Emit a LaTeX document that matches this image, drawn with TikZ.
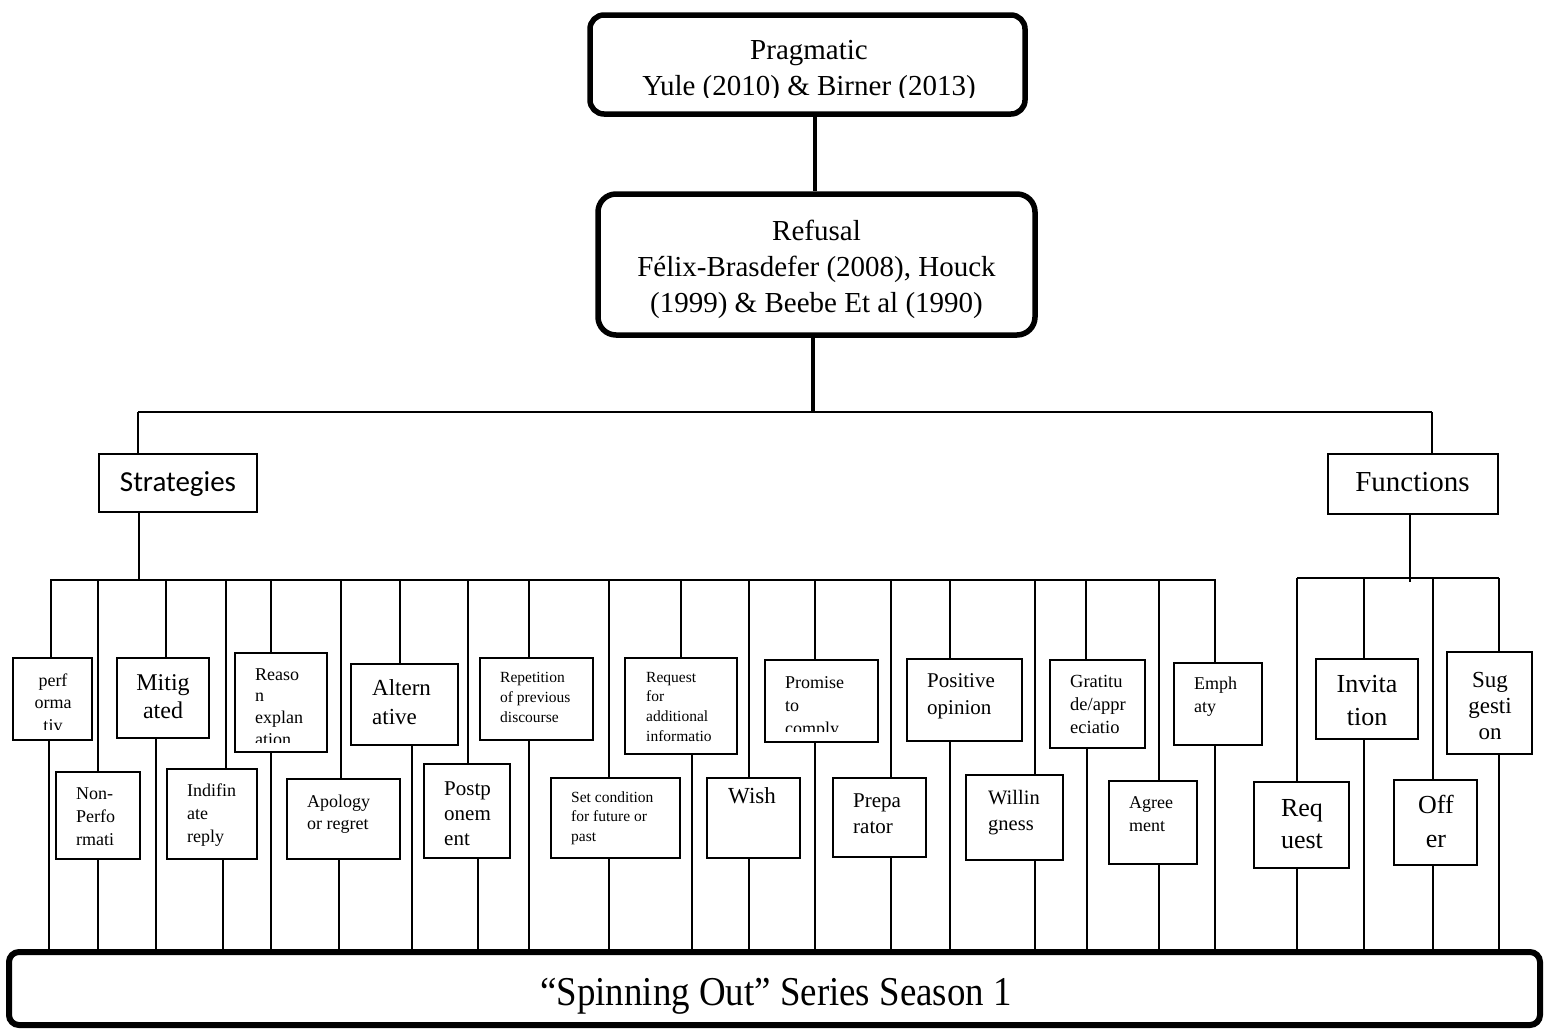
\documentclass[tikz,border=0pt]{standalone}
\usepackage{fontspec}
\setmainfont{Liberation Serif}
\newfontfamily\calibfont{Carlito}
\newcommand\fs[2]{\fontsize{#1}{#2}\selectfont}
\newcommand\Lft[1]{\vtop{\halign{##\hfil\cr#1\crcr}}}
\newcommand\Ctr[1]{\vtop{\halign{\hfil##\hfil\cr#1\crcr}}}
\tikzset{
  leafbox/.style={draw, line width=2pt, inner sep=0pt},
  conn/.style={line width=1.6pt},
  lbl/.style={inner sep=0pt},
  topbox/.style={draw, line width=5.5pt, rounded corners=14pt, inner sep=0pt},
  thickconn/.style={line width=4pt}
}
% #1 name, #2 x1, #3 y1, #4 x2, #5 y2, #6 top x, #7 bottom x, #8 bus coordinate
\newcommand\leaf[8]{%
  \node[leafbox, minimum width={#4-#2-2}, minimum height={#5-#3-2}] (#1) at ({(#2+#4)/2},{(#3+#5)/2}) {};
  \coordinate (#1-t) at (#6,0);
  \coordinate (#1-b) at (#7,0);
  \draw[conn] (#1-t |- #8) -- (#1-t |- #1.north);
  \draw[conn] (#1-b |- #1.south) -- (#1-b |- spin.north);
}
\begin{document}
\begin{tikzpicture}[x=1pt,y=-1pt]
\useasboundingbox (0,0) rectangle (1544,1029);

% top boxes
\node[topbox, minimum width=435, minimum height=99] (prag) at (807.5,64.5) {};
\begin{scope}
  \clip (592,17) rectangle (1023,97.5);
  \node[lbl, anchor=base, font=\fs{29}{36}] (pragt) at (809,59) {\Ctr{Pragmatic\cr Yule (2010) \& Birner (2013)}};
\end{scope}
\node[topbox, rounded corners=18pt, minimum width=437, minimum height=141] (ref) at (816.5,264.5) {};
\node[lbl, anchor=base, font=\fs{29}{36}] (reft) at (816.5,240) {\Ctr{Refusal\cr Félix-Brasdefer (2008), Houck\cr (1999) \& Beebe Et al (1990)}};

\draw[thickconn] ([xshift=7.5pt]prag.south) -- ([xshift=7.5pt]prag.south |- ref.north);

% main bus
\coordinate (mL) at (138,412);
\coordinate (mR) at (1432,412);
\coordinate (mM) at (813,412);
\draw[thickconn] ([xshift=-3.5pt]ref.south) -- (mM);
\draw[line width=2pt] (mL) -- (mR);

% strategies / functions
\node[leafbox, minimum width=158, minimum height=58] (strat) at (178,483) {};
\node[lbl, anchor=base, font={\calibfont\fs{29}{29}}] (stratt) at (178,491) {Strategies};
\node[leafbox, minimum width=170, minimum height=60] (func) at (1413,484) {};
\node[lbl, anchor=base, font=\fs{29}{29}] (funct) at (1412.5,491) {Functions};
\draw[conn] (mL) -- (mL |- strat.north);
\draw[conn] (mR) -- (mR |- func.north);

\coordinate (sbusL) at (50,580);
\coordinate (sbusR) at (1216,580);
\coordinate (sjoin) at (139,580);
\coordinate (fbusL) at (1297,578);
\coordinate (fbusR) at (1499,578);
\coordinate (fjoin) at (1410,582);
\draw[conn] (sbusL) -- (sbusR);
\draw[conn] (fbusL) -- (fbusR);
\draw[conn] (sjoin |- strat.south) -- (sjoin);
\draw[conn] (fjoin |- func.south) -- (fjoin);

% bottom box
\node[draw, line width=6pt, rounded corners=10pt, inner sep=0pt, minimum width=1531, minimum height=73] (spin) at (774.5,988.5) {};
\node[lbl, anchor=base, font=\fs{41}{41}] (spint) at (776,1005) {\scalebox{0.9}[1]{“Spinning Out” Series Season 1}};

% strategy leaves
\leaf{l1}{12}{657}{93}{741}{51}{49}{sbusL}
\begin{scope}
  \clip (14,659) rectangle (91,729);
  \node[lbl, anchor=base, font=\fs{18}{22.5}] (l1x) at (53,686) {\Ctr{perf\cr orma\cr tiv}};
\end{scope}
\leaf{l2}{55}{771}{141}{860}{98}{98}{sbusL}
\node[lbl, anchor=base west, font=\fs{18}{23}] (l2x) at (76,799) {\Lft{Non-\cr Perfo\cr rmati}};
\leaf{l3}{116}{657}{210}{739}{166}{156}{sbusL}
\node[lbl, anchor=base, font=\fs{24}{28}] (l3x) at (163,690) {\Ctr{Mitig\cr ated}};
\leaf{l4}{166}{768}{258}{860}{226}{223}{sbusL}
\node[lbl, anchor=base west, font=\fs{18}{23}] (l4x) at (187,796) {\Lft{Indifin\cr ate\cr reply}};
\leaf{l5}{234}{652}{328}{753}{271}{271}{sbusL}
\begin{scope}
  \clip (236,654) rectangle (326,742);
  \node[lbl, anchor=base west, font=\fs{18}{21.7}] (l5x) at (255,680) {\Lft{Reaso\cr n\cr explan\cr ation}};
\end{scope}
\leaf{l6}{286}{778}{401}{860}{341}{339}{sbusL}
\node[lbl, anchor=base west, font=\fs{18}{22.5}] (l6x) at (307,807) {\Lft{Apology\cr or regret}};
\leaf{l7}{350}{663}{459}{746}{400}{412}{sbusL}
\node[lbl, anchor=base west, font=\fs{23}{29}] (l7x) at (372,695) {\Lft{Altern\cr ative}};
\leaf{l8}{423}{763}{511}{859}{468}{478}{sbusL}
\node[lbl, anchor=base west, font=\fs{21}{25}] (l8x) at (444,795) {\Lft{Postp\cr onem\cr ent}};
\leaf{l9}{479}{657}{594}{741}{529}{529}{sbusL}
\node[lbl, anchor=base west, font=\fs{15.5}{20}] (l9x) at (500,682) {\Lft{Repetition\cr of previous\cr discourse}};
\leaf{l10}{550}{777}{681}{859}{609}{609}{sbusL}
\node[lbl, anchor=base west, font=\fs{15.5}{19.5}] (l10x) at (571,802) {\Lft{Set condition\cr for future or\cr past}};
\leaf{l11}{624}{657}{738}{755}{681}{692}{sbusL}
\node[lbl, anchor=base west, font=\fs{15.5}{19.7}] (l11x) at (646,682) {\Lft{Request\cr for\cr additional\cr informatio}};
\leaf{l12}{706}{777}{801}{859}{749}{749}{sbusL}
\node[lbl, anchor=base west, font=\fs{23}{28}] (l12x) at (728,803) {Wish};
\leaf{l13}{764}{659}{879}{743}{815}{815}{sbusL}
\begin{scope}
  \clip (766,661) rectangle (877,731.5);
  \node[lbl, anchor=base west, font=\fs{18}{23}] (l13x) at (785,688) {\Lft{Promise\cr to\cr comply}};
\end{scope}
\leaf{l14}{832}{777}{927}{858}{891}{891}{sbusL}
\node[lbl, anchor=base west, font=\fs{21}{26}] (l14x) at (853,807) {\Lft{Prepa\cr rator}};
\leaf{l15}{906}{658}{1023}{742}{950}{950}{sbusL}
\node[lbl, anchor=base west, font=\fs{21}{27}] (l15x) at (927,687) {\Lft{Positive\cr opinion}};
\leaf{l16}{965}{774}{1064}{861}{1035}{1035}{sbusL}
\node[lbl, anchor=base west, font=\fs{20.5}{26}] (l16x) at (988,804) {\Lft{Willin\cr gness}};
\leaf{l17}{1049}{659}{1146}{749}{1086}{1087}{sbusL}
\node[lbl, anchor=base west, font=\fs{18.5}{23}] (l17x) at (1070,687) {\Lft{Gratitu\cr de/appr\cr eciatio}};
\leaf{l18}{1108}{780}{1198}{865}{1159}{1159}{sbusL}
\node[lbl, anchor=base west, font=\fs{18}{23.5}] (l18x) at (1129,808) {\Lft{Agree\cr ment}};
\leaf{l19}{1173}{662}{1263}{746}{1215}{1215}{sbusL}
\node[lbl, anchor=base west, font=\fs{18}{23}] (l19x) at (1194,689) {\Lft{Emph\cr aty}};

% function leaves
\leaf{f1}{1253}{781}{1350}{869}{1297}{1297}{fbusL}
\node[lbl, anchor=base, font=\fs{26}{32}] (f1x) at (1302,816) {\Ctr{Req\cr uest}};
\leaf{f2}{1315}{658}{1419}{740}{1364}{1364}{fbusL}
\node[lbl, anchor=base, font=\fs{26}{33}] (f2x) at (1367,692) {\Ctr{Invita\cr tion}};
\leaf{f3}{1393}{779}{1478}{866}{1433}{1433}{fbusL}
\node[lbl, anchor=base, font=\fs{26}{34}] (f3x) at (1436,813) {\Ctr{Off\cr er}};
\leaf{f4}{1446}{651}{1533}{755}{1499}{1499}{fbusL}
\node[lbl, anchor=base, font=\fs{23}{26}] (f4x) at (1490,687) {\Ctr{Sug\cr gesti\cr on}};
\end{tikzpicture}
\end{document}
